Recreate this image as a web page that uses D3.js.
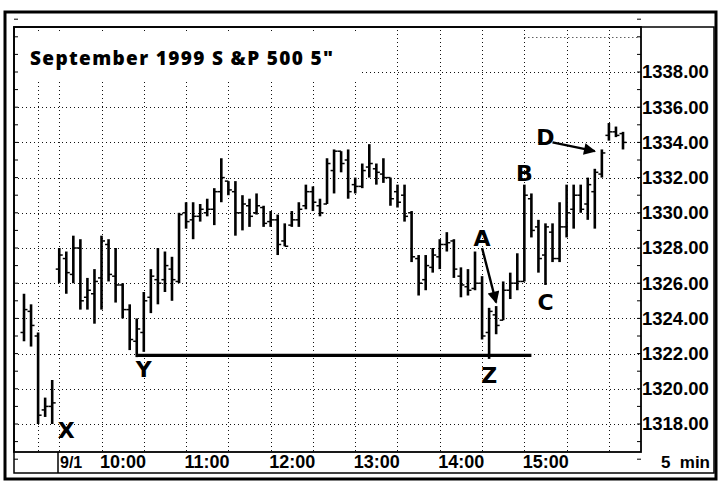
<!DOCTYPE html>
<meta charset="utf-8">
<style>
  body { margin: 0; background: #fff; }
  .grid line { stroke: #111; stroke-width: 1; stroke-dasharray: 1,3; }
  .bar line { stroke: #000; }
  .lbl { font-family: "Liberation Sans", Arial, sans-serif; font-weight: bold; fill: #000; }
  .note { font-family: "DejaVu Sans", sans-serif; font-weight: bold; font-size: 22px; fill: #000; }
</style>
<body></body>
<script src="https://cdn.jsdelivr.net/npm/d3@7"></script>
<script>
  // 5 minute bars, last bars of 8/31 then the 9/1 session
  var times = [
    "8/31 15:50", "8/31 15:55", "8/31 16:00", "8/31 16:05", "8/31 16:10",
    "9/1 09:30", "9/1 09:35", "9/1 09:40", "9/1 09:45", "9/1 09:50", "9/1 09:55",
    "9/1 10:00", "9/1 10:05", "9/1 10:10", "9/1 10:15", "9/1 10:20", "9/1 10:25",
    "9/1 10:30", "9/1 10:35", "9/1 10:40", "9/1 10:45", "9/1 10:50", "9/1 10:55",
    "9/1 11:00", "9/1 11:05", "9/1 11:10", "9/1 11:15", "9/1 11:20", "9/1 11:25",
    "9/1 11:30", "9/1 11:35", "9/1 11:40", "9/1 11:45", "9/1 11:50", "9/1 11:55",
    "9/1 12:00", "9/1 12:05", "9/1 12:10", "9/1 12:15", "9/1 12:20", "9/1 12:25",
    "9/1 12:30", "9/1 12:35", "9/1 12:40", "9/1 12:45", "9/1 12:50", "9/1 12:55",
    "9/1 13:00", "9/1 13:05", "9/1 13:10", "9/1 13:15", "9/1 13:20", "9/1 13:25",
    "9/1 13:30", "9/1 13:35", "9/1 13:40", "9/1 13:45", "9/1 13:50", "9/1 13:55",
    "9/1 14:00", "9/1 14:05", "9/1 14:10", "9/1 14:15", "9/1 14:20", "9/1 14:25",
    "9/1 14:30", "9/1 14:35", "9/1 14:40", "9/1 14:45", "9/1 14:50", "9/1 14:55",
    "9/1 15:00", "9/1 15:05", "9/1 15:10", "9/1 15:15", "9/1 15:20", "9/1 15:25",
    "9/1 15:30", "9/1 15:35", "9/1 15:40", "9/1 15:45", "9/1 15:50", "9/1 15:55",
    "9/1 16:00", "9/1 16:05", "9/1 16:10"
  ];
  var opens = [
    1323.2, 1324.4, 1323.0, 1318.8, 1319.0,
    1326.8, 1327.4, 1326.5, 1328.0, 1325.2, 1325.4,
    1326.3, 1328.2, 1326.4, 1325.9, 1324.5, 1322.7,
    1323.2, 1325.2, 1326.2, 1326.2, 1326.8, 1326.1,
    1330.0, 1329.6, 1329.8, 1330.0, 1330.2, 1331.2,
    1331.8, 1331.2, 1330.0, 1330.4, 1330.0, 1330.3,
    1329.5, 1329.6, 1328.4, 1329.3, 1329.6, 1330.4,
    1331.2, 1330.4, 1330.5, 1332.4, 1333.5, 1333.0,
    1331.6, 1331.5, 1332.6, 1332.5, 1332.2, 1332.0,
    1331.2, 1331.0, 1330.0, 1327.4, 1326.2, 1326.9,
    1327.5, 1328.2, 1328.4, 1326.4, 1325.8, 1325.7,
    1326.0, 1323.2, 1324.2, 1323.9, 1325.6, 1326.0,
    1326.1, 1330.8, 1329.2, 1327.6, 1328.9, 1327.4,
    1329.2, 1330.2, 1331.0, 1330.5, 1331.2, 1332.2,
    1334.4, 1334.6, 1334.5
  ];
  var highs = [
    1325.4, 1324.8, 1323.2, 1319.5, 1320.5,
    1328.0, 1327.8, 1328.7, 1328.5, 1326.3, 1326.8,
    1328.7, 1328.5, 1328.0, 1326.0, 1324.8, 1324.0,
    1325.5, 1326.8, 1328.0, 1327.8, 1327.5, 1330.0,
    1330.6, 1330.6, 1330.5, 1330.8, 1331.4, 1333.1,
    1331.8, 1331.8, 1331.0, 1330.8, 1331.1, 1330.4,
    1330.1, 1329.9, 1329.4, 1330.1, 1330.6, 1331.6,
    1331.5, 1330.8, 1333.1, 1333.6, 1333.5, 1333.6,
    1332.0, 1332.8, 1333.9, 1332.8, 1333.1, 1332.0,
    1331.6, 1331.6, 1330.1, 1327.6, 1327.6, 1328.0,
    1328.5, 1328.9, 1328.5, 1326.9, 1326.8, 1327.8,
    1326.4, 1324.6, 1324.7, 1326.1, 1326.6, 1327.7,
    1331.6, 1331.1, 1329.6, 1329.4, 1329.4, 1330.6,
    1331.6, 1331.6, 1331.6, 1332.0, 1332.5, 1333.6,
    1335.1, 1334.9, 1334.6
  ];
  var lows = [
    1322.7, 1322.4, 1318.0, 1318.4, 1318.0,
    1326.0, 1325.4, 1326.0, 1324.5, 1324.5, 1323.7,
    1324.5, 1326.1, 1324.9, 1324.0, 1322.2, 1321.8,
    1322.1, 1324.3, 1324.8, 1325.5, 1325.0, 1326.0,
    1329.1, 1328.5, 1329.5, 1329.8, 1329.3, 1330.6,
    1331.0, 1328.7, 1329.0, 1329.2, 1329.9, 1329.2,
    1329.2, 1327.6, 1328.1, 1329.2, 1329.2, 1330.2,
    1330.1, 1329.8, 1330.5, 1331.1, 1332.3, 1330.8,
    1331.1, 1331.4, 1332.0, 1331.6, 1331.7, 1330.4,
    1330.3, 1329.5, 1327.2, 1325.3, 1325.6, 1326.6,
    1326.8, 1327.8, 1326.3, 1325.2, 1325.3, 1325.6,
    1322.8, 1321.7, 1323.1, 1323.9, 1325.1, 1325.6,
    1326.1, 1328.6, 1326.6, 1325.9, 1327.2, 1327.2,
    1328.6, 1329.1, 1330.0, 1329.6, 1329.1, 1332.0,
    1334.1, 1334.3, 1333.6
  ];
  var closes = [
    1324.5, 1323.6, 1318.5, 1319.0, 1319.2,
    1327.6, 1326.6, 1328.0, 1325.0, 1325.6, 1326.1,
    1328.4, 1326.5, 1325.9, 1324.5, 1322.8, 1323.4,
    1325.0, 1326.4, 1326.0, 1327.0, 1326.2, 1329.9,
    1329.5, 1329.8, 1330.2, 1330.2, 1331.2, 1332.0,
    1331.3, 1330.0, 1330.5, 1329.8, 1330.4, 1329.4,
    1329.6, 1328.2, 1328.1, 1329.6, 1330.2, 1331.2,
    1330.6, 1330.0, 1332.8, 1333.5, 1332.8, 1331.2,
    1331.5, 1332.4, 1332.8, 1332.3, 1332.0, 1330.8,
    1330.6, 1329.8, 1327.5, 1326.0, 1327.0, 1327.6,
    1328.2, 1328.3, 1326.8, 1325.9, 1325.6, 1326.0,
    1323.0, 1324.4, 1323.6, 1325.6, 1326.0, 1326.1,
    1331.0, 1329.0, 1327.4, 1329.2, 1327.4, 1329.2,
    1330.0, 1331.0, 1330.2, 1331.6, 1332.3, 1333.4,
    1334.6, 1334.4, 1334.0
  ];

  var priceTicks = [1318, 1320, 1322, 1324, 1326, 1328, 1330, 1332, 1334, 1336, 1338];
  var gridPrices = [1318, 1320, 1322, 1324, 1326, 1328, 1330, 1332, 1334, 1336, 1338, 1340];
  var gridTimes = ["8/31 16:00", "9/1 09:30", "9/1 10:00", "9/1 10:30", "9/1 11:00", "9/1 11:30",
    "9/1 12:00", "9/1 12:30", "9/1 13:00", "9/1 13:30", "9/1 14:00", "9/1 14:30",
    "9/1 15:00", "9/1 15:30", "9/1 16:00"];
  var hourTicks = ["9/1 10:00", "9/1 11:00", "9/1 12:00", "9/1 13:00", "9/1 14:00", "9/1 15:00"];

  // support line Y-Z and letter notes
  var supportLine = {from: "9/1 10:25", to: "9/1 15:05", price: 1321.9};
  var noteText = ["X", "Y", "Z", "A", "B", "C", "D"];
  var noteTimes = ["9/1 09:35", "9/1 10:30", "9/1 14:35", "9/1 14:30", "9/1 15:00", "9/1 15:15", "9/1 15:15"];
  var notePrices = [1317.65, 1321.1, 1320.8, 1328.55, 1332.25, 1324.9, 1334.3];
  var arrowFrom = [["9/1 14:30", 1328.0], ["9/1 15:20", 1334.0]];
  var arrowTo = [["9/1 14:40", 1324.9], ["9/1 15:50", 1333.5]];

  var W = 721, H = 483;
  var plot = {left: 14, top: 27, right: 641, bottom: 452};

  var x = d3.scalePoint().domain(times).range([24, 623]);
  var y = d3.scaleLinear().domain([1318, 1338]).range([424, 72]);

  var svg = d3.select("body").append("svg")
    .attr("width", W)
    .attr("height", H);

  svg.append("rect").attr("width", W).attr("height", H).attr("fill", "#fff");

  // dotted grid
  var grid = svg.append("g").attr("class", "grid");
  grid.selectAll(".h")
    .data(gridPrices)
    .enter().append("line")
    .attr("x1", function(d) { return d === 1340 ? x("9/1 15:00") : plot.left; })
    .attr("x2", plot.right)
    .attr("y1", function(d) { return Math.round(y(d)) + 0.5; })
    .attr("y2", function(d) { return Math.round(y(d)) + 0.5; });
  grid.selectAll(".v")
    .data(gridTimes)
    .enter().append("line")
    .attr("x1", function(d) { return Math.round(x(d)) + 0.5; })
    .attr("x2", function(d) { return Math.round(x(d)) + 0.5; })
    .attr("y1", plot.top + 3)
    .attr("y2", plot.bottom);

  // white box behind the title
  svg.append("rect")
    .attr("x", plot.left + 2).attr("y", 34)
    .attr("width", 345).attr("height", 45)
    .attr("fill", "#fff");

  svg.append("text")
    .attr("x", 30).attr("y", 65)
    .attr("textLength", 303)
    .attr("lengthAdjust", "spacing")
    .style("font-family", "'Open Sans', Lato, sans-serif")
    .style("font-weight", "800")
    .style("font-size", "19px")
    .text("September 1999 S &P 500 5\"");

  // OHLC bars
  var bars = times.map(function(t, i) {
    return {t: t, o: opens[i], h: highs[i], l: lows[i], c: closes[i]};
  });
  var bar = svg.append("g").attr("class", "bar")
    .selectAll("g")
    .data(bars)
    .enter().append("g")
    .attr("transform", function(d) { return "translate(" + x(d.t) + ",0)"; });
  bar.append("line")
    .attr("y1", function(d) { return y(d.h); })
    .attr("y2", function(d) { return y(d.l); })
    .attr("stroke-width", 2.6);
  bar.append("line")
    .attr("x1", -3.5).attr("x2", 0)
    .attr("y1", function(d) { return y(d.o); })
    .attr("y2", function(d) { return y(d.o); })
    .attr("stroke-width", 1.5);
  bar.append("line")
    .attr("x1", 0).attr("x2", 3.5)
    .attr("y1", function(d) { return y(d.c); })
    .attr("y2", function(d) { return y(d.c); })
    .attr("stroke-width", 1.5);

  // Y-Z support line
  svg.append("line")
    .attr("x1", x(supportLine.from)).attr("x2", x(supportLine.to))
    .attr("y1", y(supportLine.price)).attr("y2", y(supportLine.price))
    .attr("stroke", "#000")
    .attr("stroke-width", 3.2);

  // arrows
  svg.append("defs").append("marker")
    .attr("id", "head")
    .attr("viewBox", "0 0 10 10")
    .attr("refX", 9).attr("refY", 5)
    .attr("markerWidth", 6).attr("markerHeight", 5)
    .attr("markerUnits", "strokeWidth")
    .attr("orient", "auto")
    .append("path")
    .attr("d", "M0,0L10,5L0,10Z")
    .attr("fill", "#000");
  svg.selectAll(".arrow")
    .data(arrowFrom)
    .enter().append("line")
    .attr("x1", function(d) { return x(d[0]); })
    .attr("y1", function(d) { return y(d[1]); })
    .attr("x2", function(d, i) { return x(arrowTo[i][0]); })
    .attr("y2", function(d, i) { return y(arrowTo[i][1]); })
    .attr("stroke", "#000")
    .attr("stroke-width", 2.4)
    .attr("marker-end", "url(#head)");

  // letters
  svg.selectAll(".note")
    .data(noteText)
    .enter().append("text")
    .attr("class", "note")
    .attr("x", function(d, i) { return x(noteTimes[i]); })
    .attr("y", function(d, i) { return y(notePrices[i]); })
    .attr("dy", "0.36em")
    .attr("text-anchor", "middle")
    .text(function(d) { return d; });

  // minor ticks on both plot edges, one per point
  var minor = d3.range(1316, 1342);
  svg.append("g").selectAll("line")
    .data(minor)
    .enter().append("line")
    .attr("x1", plot.left).attr("x2", plot.left + 4)
    .attr("y1", function(d) { return y(d); })
    .attr("y2", function(d) { return y(d); })
    .attr("stroke", "#000");
  svg.append("g").selectAll("line")
    .data(minor)
    .enter().append("line")
    .attr("x1", plot.right - 4).attr("x2", plot.right)
    .attr("y1", function(d) { return y(d); })
    .attr("y2", function(d) { return y(d); })
    .attr("stroke", "#000");

  // price axis on the right
  var yAxis = svg.append("g")
    .attr("transform", "translate(" + plot.right + ",0)")
    .call(d3.axisRight(y).tickValues(priceTicks).tickSize(0).tickPadding(1)
      .tickFormat(d3.format(".2f")));
  yAxis.select(".domain").remove();
  yAxis.selectAll("text")
    .attr("class", "lbl")
    .style("font-size", "18.5px");

  // time axis
  var xAxis = svg.append("g")
    .attr("transform", "translate(0," + plot.bottom + ")")
    .call(d3.axisBottom(x).tickValues(hourTicks).tickSize(0)
      .tickFormat(function(d) { return d.split(" ")[1]; }));
  xAxis.select(".domain").remove();
  xAxis.selectAll("text")
    .attr("class", "lbl")
    .attr("y", 16).attr("dy", 0).attr("dx", -2)
    .attr("text-anchor", "start")
    .style("font-size", "18px");

  svg.append("text").attr("class", "lbl")
    .attr("x", 60).attr("y", 468)
    .style("font-size", "16px")
    .text("9/1");
  svg.append("text").attr("class", "lbl")
    .attr("x", 710).attr("y", 468)
    .attr("text-anchor", "end")
    .style("font-size", "17px")
    .style("white-space", "pre")
    .text("5  min");

  // frames
  var frame = svg.append("g").attr("fill", "none").attr("stroke", "#000");
  frame.append("rect")
    .attr("x", 5).attr("y", 12).attr("width", 711).attr("height", 467)
    .attr("stroke-width", 3);
  frame.append("rect")
    .attr("x", plot.left).attr("y", plot.top)
    .attr("width", 714 - plot.left).attr("height", 473 - plot.top)
    .attr("stroke-width", 1.5);
  frame.append("rect")
    .attr("x", plot.left).attr("y", plot.top)
    .attr("width", plot.right - plot.left).attr("height", plot.bottom - plot.top)
    .attr("stroke-width", 1.8);
  frame.append("line")
    .attr("x1", 58).attr("x2", 58)
    .attr("y1", plot.bottom).attr("y2", 473)
    .attr("stroke-width", 1.5);
</script>
